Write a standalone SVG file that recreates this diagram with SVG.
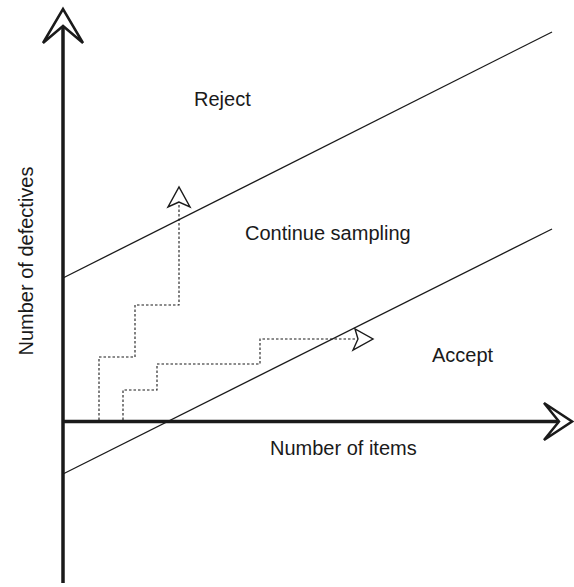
<svg xmlns="http://www.w3.org/2000/svg" width="574" height="587" viewBox="0 0 574 587">
<style>
.lbl{font-family:"Liberation Sans",Arial,sans-serif;font-size:20px;fill:#1a1a1a}
.bound{stroke:#1a1a1a;stroke-width:1.3;fill:none}
.axis{stroke:#1a1a1a;stroke-width:3.5;fill:none}
.head{stroke:#1a1a1a;stroke-width:2.5;fill:#fff;stroke-linejoin:miter}
.path{stroke:#1a1a1a;stroke-width:1.1;fill:none;stroke-dasharray:2.5 2}
.shead{stroke:#1a1a1a;stroke-width:1.4;fill:#fff}
</style>
<rect width="574" height="587" fill="#fff"/>
<g id="connectors">
<line class="bound" x1="63" y1="278" x2="552" y2="32"/>
<line class="bound" x1="63" y1="474" x2="552" y2="229"/>
<path class="path" d="M99,420 V357 H135 V305 H179 V202"/>
<path class="path" d="M123,420 V390 H157 V364 H260 V339 H357"/>
<path class="shead" d="M179,202 L168,207 L179,187 L190,207 Z"/>
<path class="shead" d="M358,339 L355,329 L373,339 L353,350 Z"/>
</g>
<g id="y-axis">
<line class="axis" x1="63" y1="583" x2="63" y2="27"/>
<path class="head" d="M63,26 L43,43 L63,9 L83,43 Z"/>
</g>
<g id="x-axis">
<line class="axis" x1="63" y1="421.5" x2="558" y2="421.5"/>
<path class="head" d="M559,421.5 L544,403 L572,421.5 L544,440 Z"/>
</g>
<g id="reject"><text class="lbl" x="194" y="106">Reject</text></g>
<g id="continue"><text class="lbl" x="245" y="240">Continue sampling</text></g>
<g id="accept"><text class="lbl" x="432" y="362">Accept</text></g>
<g id="xlabel"><text class="lbl" x="270" y="455">Number of items</text></g>
<g id="ylabel"><text class="lbl" transform="translate(33,261) rotate(-90)" text-anchor="middle">Number of defectives</text></g>
</svg>
